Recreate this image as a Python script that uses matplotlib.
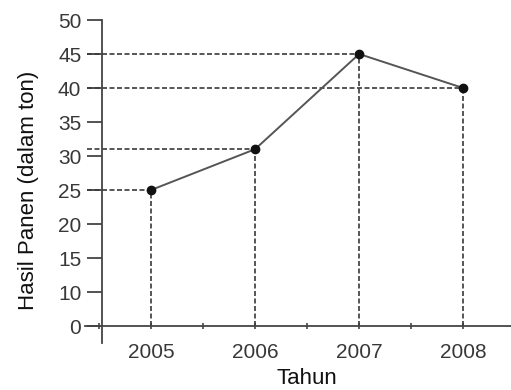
import numpy as np
import matplotlib
matplotlib.use("Agg")
from matplotlib import pyplot as plt

years = [2005, 2006, 2007, 2008]
harvest = [25, 31, 45, 40]
ytick_vals = [0, 10, 15, 20, 25, 30, 35, 40, 45, 50]

plt.rcParams['font.family'] = ['Liberation Sans', 'DejaVu Sans']


# axis is broken: 0..10 squeezed into one 5-unit step
def fwd(y):
	y = np.asarray(y, dtype=float)
	return np.where(y < 10, y / 2.0, y - 5.0)


def inv(y):
	y = np.asarray(y, dtype=float)
	return np.where(y < 5, y * 2.0, y + 5.0)


fig = plt.figure(figsize=(5.11, 3.9), dpi=100)
ax = fig.add_axes([85 / 511, 47 / 390, 426 / 511, 323 / 390])
ax.set_yscale('function', functions=(fwd, inv))

xmin, xmax = 2004.365, 2008.46
ax.set_xlim(xmin, xmax)
ax.set_ylim(-5, 50)

ax.spines['right'].set_color('none')
ax.spines['top'].set_color('none')
ax.spines['bottom'].set_position(('data', 0))
ax.spines['left'].set_position(('data', 2004.53))
ax.spines['left'].set_bounds(-5, 50)
for s in ('left', 'bottom'):
	ax.spines[s].set_color('#444444')
	ax.spines[s].set_linewidth(1.3)

dash = dict(color='#3a3a3a', lw=1.2, linestyle=(0, (3, 1.5)))
for x, y in zip(years, harvest):
	ax.plot([xmin + 0.02, x], [y, y], **dash)
	ax.plot([x, x], [0, y], **dash)

ax.plot(years, harvest, color='#555555', lw=1.4, marker='o', ms=6,
	markerfacecolor='#111111', markeredgecolor='#111111', zorder=5)

ax.set_yticks(ytick_vals)
ax.set_yticklabels([str(v) for v in ytick_vals])
ax.yaxis.set_minor_locator(matplotlib.ticker.NullLocator())
ax.tick_params(axis='y', direction='out', length=11, width=1.3, color='#444444',
	pad=4, labelsize=15, labelcolor='#383838')

ax.set_xticks(years)
ax.set_xticklabels([str(v) for v in years])
ax.set_xticks([2004.5, 2005.5, 2006.5, 2007.5], minor=True)
ax.tick_params(axis='x', which='both', direction='inout', length=5, width=1.2,
	color='#444444', pad=10, labelsize=15, labelcolor='#383838')

fig.text(29 / 511, 1 - 190 / 390, 'Hasil Panen (dalam ton)', rotation=90,
	ha='center', va='center', fontsize=16, color='#111111')
fig.text(307 / 511, 0.003, 'Tahun', ha='center', va='bottom',
	fontsize=16, color='#111111')

fig.savefig('out.png', dpi=100)
